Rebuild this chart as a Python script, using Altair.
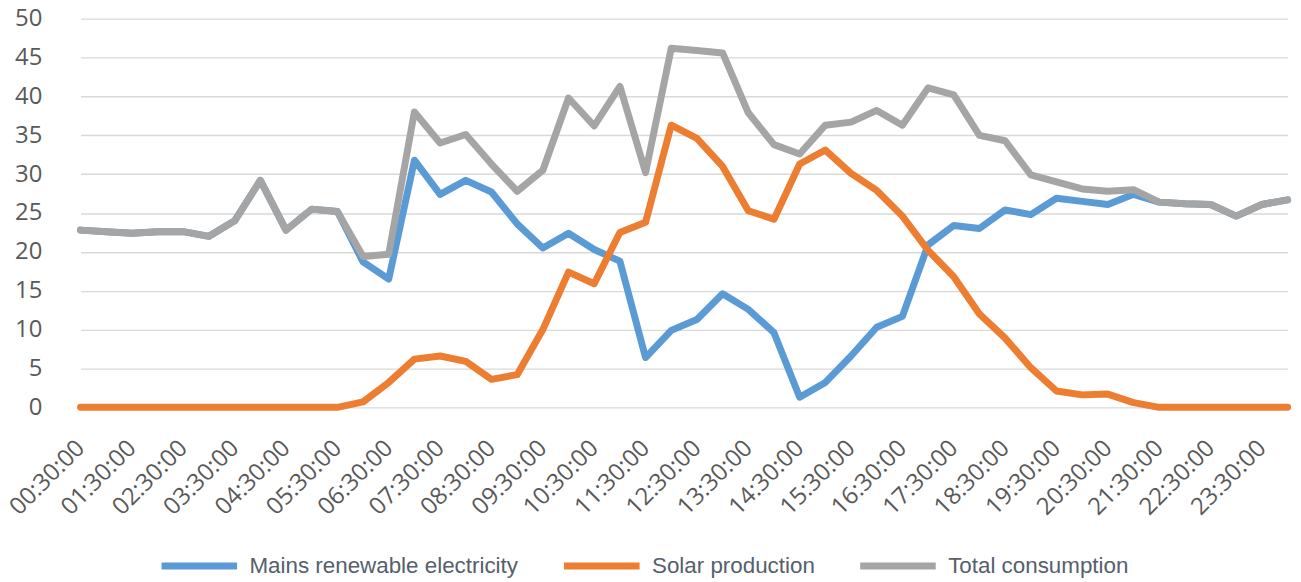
import altair as alt
import pandas as pd

times = [
    "00:30:00", "01:00:00", "01:30:00", "02:00:00", "02:30:00", "03:00:00",
    "03:30:00", "04:00:00", "04:30:00", "05:00:00", "05:30:00", "06:00:00",
    "06:30:00", "07:00:00", "07:30:00", "08:00:00", "08:30:00", "09:00:00",
    "09:30:00", "10:00:00", "10:30:00", "11:00:00", "11:30:00", "12:00:00",
    "12:30:00", "13:00:00", "13:30:00", "14:00:00", "14:30:00", "15:00:00",
    "15:30:00", "16:00:00", "16:30:00", "17:00:00", "17:30:00", "18:00:00",
    "18:30:00", "19:00:00", "19:30:00", "20:00:00", "20:30:00", "21:00:00",
    "21:30:00", "22:00:00", "22:30:00", "23:00:00", "23:30:00", "00:00:00",
]

mains = [
    22.8, 22.6, 22.4, 22.6, 22.6, 22.0, 24.0, 29.2, 22.8, 25.5, 25.2, 18.7,
    16.5, 31.8, 27.4, 29.2, 27.7, 23.6, 20.5, 22.4, 20.3, 18.8, 6.4, 9.9,
    11.3, 14.6, 12.6, 9.6, 1.3, 3.2, 6.6, 10.3, 11.7, 20.9, 23.4, 23.0,
    25.4, 24.8, 26.9, 26.5, 26.1, 27.4, 26.4, 26.2, 26.1, 24.6, 26.1, 26.7,
]

solar = [
    0, 0, 0, 0, 0, 0, 0, 0, 0, 0, 0, 0.7,
    3.2, 6.2, 6.6, 5.9, 3.6, 4.2, 10.0, 17.4, 15.9, 22.5, 23.8, 36.3,
    34.6, 31.0, 25.3, 24.2, 31.3, 33.1, 30.1, 27.9, 24.6, 20.2, 16.8, 12.0,
    8.9, 5.1, 2.1, 1.6, 1.7, 0.6, 0, 0, 0, 0, 0, 0,
]

total = [
    22.8, 22.6, 22.4, 22.6, 22.6, 22.0, 24.0, 29.2, 22.8, 25.5, 25.2, 19.4,
    19.7, 38.0, 34.0, 35.1, 31.3, 27.8, 30.5, 39.8, 36.2, 41.3, 30.2, 46.2,
    45.9, 45.6, 37.9, 33.8, 32.6, 36.3, 36.7, 38.2, 36.3, 41.1, 40.2, 35.0,
    34.3, 29.9, 29.0, 28.1, 27.8, 28.0, 26.4, 26.2, 26.1, 24.6, 26.1, 26.7,
]

series_names = ["Mains renewable electricity", "Solar production", "Total consumption"]
series_colors = ["#5B9BD5", "#ED7D31", "#A5A5A5"]
y_ticks = [0, 5, 10, 15, 20, 25, 30, 35, 40, 45, 50]
x_labels = times[0::2]

rows = []
for name, vals in zip(series_names, [mains, solar, total]):
    for t, v in zip(times, vals):
        rows.append({"time": t, "value": v, "series": name})
df = pd.DataFrame(rows)

x_enc = alt.X(
    "time:N",
    sort=times,
    title=None,
    scale=alt.Scale(type="point", padding=0, range=[13, 1227.6]),
    axis=alt.Axis(
        values=x_labels,
        labelAngle=-45,
        labelAlign="right",
        labelBaseline="middle",
        labelPadding=37,
        labelFont="Open Sans",
        labelFontSize=24,
        labelColor="#595959",
        ticks=False,
        domain=False,
        grid=False,
        labelOverlap=False,
    ),
)

y_enc = alt.Y(
    "value:Q",
    title=None,
    scale=alt.Scale(domain=[0, 50], nice=False, zero=True),
    axis=alt.Axis(
        values=y_ticks,
        grid=True,
        gridColor="#D9D9D9",
        gridWidth=1.3,
        domain=False,
        ticks=False,
        labelPadding=26,
        labelFont="Open Sans",
        labelFontSize=24,
        labelColor="#595959",
    ),
)

color_enc = alt.Color(
    "series:N",
    scale=alt.Scale(domain=series_names, range=series_colors),
    legend=alt.Legend(
        title=None,
        orient="none",
        legendX=91,
        legendY=509,
        direction="horizontal",
        symbolType="stroke",
        symbolSize=5776,
        symbolStrokeWidth=7,
        labelFont="Liberation Sans",
        labelFontSize=22.5,
        labelColor="#55606B",
        labelOffset=9,
        columnPadding=31,
        labelLimit=400,
    ),
)

layers = []
for name in series_names:
    layers.append(
        alt.Chart(df)
        .transform_filter(alt.datum.series == name)
        .mark_line(strokeWidth=7, strokeCap="round", strokeJoin="round")
        .encode(x=x_enc, y=y_enc, color=color_enc)
    )

chart = (
    alt.layer(*layers)
    .properties(
        width=1233,
        height=391,
        padding={"left": 60, "top": 9, "right": 0, "bottom": 174},
        autosize=alt.AutoSizeParams(type="none"),
        background="white",
    )
    .configure_view(stroke=None)
)

chart.save("out.html", embed_options={"renderer": "svg", "actions": False})
